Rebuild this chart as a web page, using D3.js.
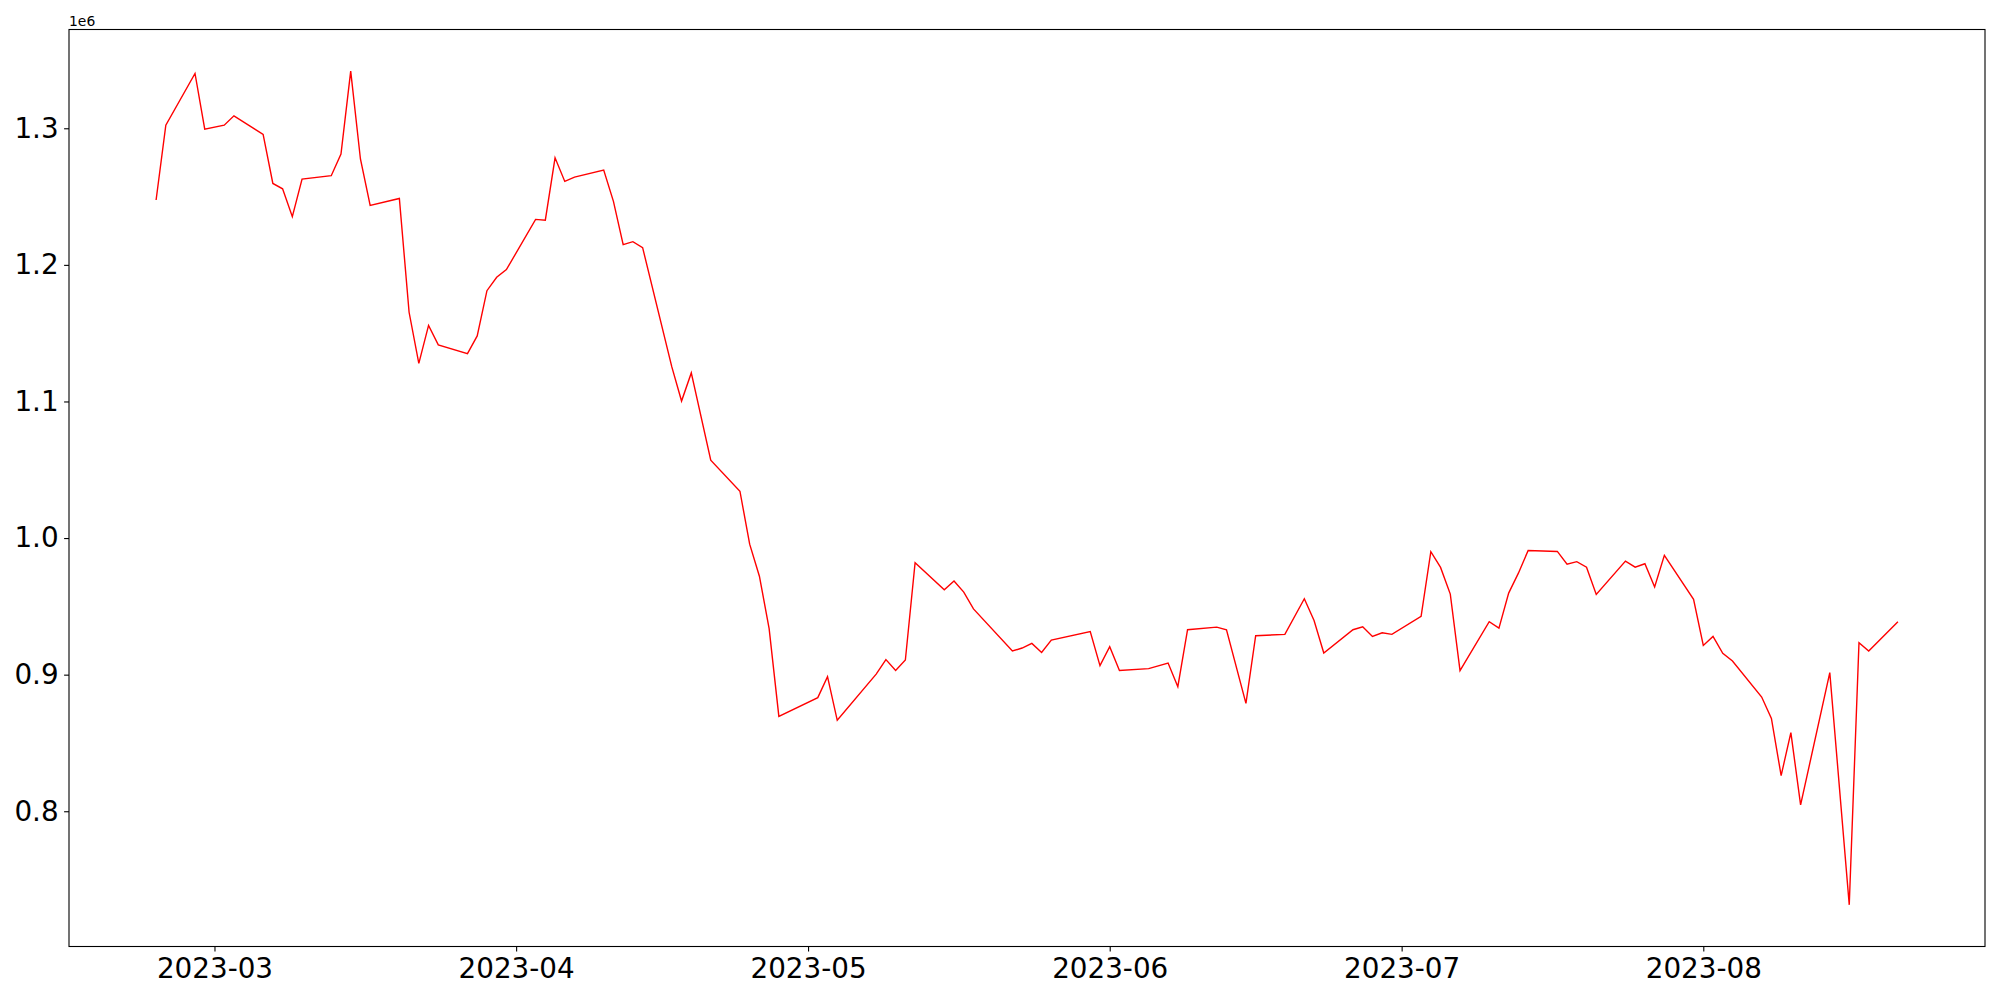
<!DOCTYPE html>
<html>
<head>
<meta charset="utf-8">
<script src="https://cdn.jsdelivr.net/npm/d3@7"></script>
<style>
  html, body { margin: 0; padding: 0; background: #fff; overflow: hidden; }
  svg { display: block; }
  text { font-family: "DejaVu Sans", sans-serif; }
</style>
</head>
<body>
<div id="chart"></div>
<script>
const width = 2000,
      height = 1000,
      margin = { top: 29.5, right: 15, bottom: 53.5, left: 69 };

const innerWidth = width - (margin.right + margin.left),
      innerHeight = height - (margin.top + margin.bottom);

// trading days
const dates = [
  '2023-02-23','2023-02-24','2023-02-27','2023-02-28','2023-03-02','2023-03-03',
  '2023-03-06','2023-03-07','2023-03-08','2023-03-09','2023-03-10',
  '2023-03-13','2023-03-14','2023-03-15','2023-03-16','2023-03-17',
  '2023-03-20','2023-03-21','2023-03-22','2023-03-23','2023-03-24',
  '2023-03-27','2023-03-28','2023-03-29','2023-03-30','2023-03-31',
  '2023-04-03','2023-04-04','2023-04-05','2023-04-06','2023-04-07',
  '2023-04-10','2023-04-11','2023-04-12','2023-04-13','2023-04-14',
  '2023-04-17','2023-04-18','2023-04-19','2023-04-21',
  '2023-04-24','2023-04-25','2023-04-26','2023-04-27','2023-04-28',
  '2023-05-02','2023-05-03','2023-05-04',
  '2023-05-08','2023-05-09','2023-05-10','2023-05-11','2023-05-12',
  '2023-05-15','2023-05-16','2023-05-17','2023-05-18',
  '2023-05-22','2023-05-23','2023-05-24','2023-05-25','2023-05-26',
  '2023-05-30','2023-05-31','2023-06-01','2023-06-02',
  '2023-06-05','2023-06-07','2023-06-08','2023-06-09',
  '2023-06-12','2023-06-13','2023-06-15','2023-06-16',
  '2023-06-19','2023-06-21','2023-06-22','2023-06-23',
  '2023-06-26','2023-06-27','2023-06-28','2023-06-29','2023-06-30',
  '2023-07-03','2023-07-04','2023-07-05','2023-07-06','2023-07-07',
  '2023-07-10','2023-07-11','2023-07-12','2023-07-13','2023-07-14',
  '2023-07-17','2023-07-18','2023-07-19','2023-07-20','2023-07-21',
  '2023-07-24','2023-07-25','2023-07-26','2023-07-27','2023-07-28',
  '2023-07-31','2023-08-01','2023-08-02','2023-08-03','2023-08-04',
  '2023-08-07','2023-08-08','2023-08-09','2023-08-10','2023-08-11',
  '2023-08-14','2023-08-16','2023-08-17','2023-08-18','2023-08-21'
];

const values = [
  1247500, 1302300, 1340100, 1299400, 1302300, 1309100,
  1295500, 1259600, 1255700, 1235300, 1262800,
  1265300, 1281100, 1341800, 1277500, 1243500,
  1248600, 1165300, 1127900, 1155700, 1141400,
  1135000, 1148000, 1181100, 1190900, 1196500,
  1233300, 1232700, 1278400, 1261100, 1264300,
  1269400, 1246500, 1214800, 1217000, 1212600,
  1125300, 1100300, 1120900, 1057000,
  1034300, 995500, 972100, 933700, 869500,
  883200, 898500, 866600,
  900400, 911000, 903100, 910700, 981900,
  962200, 968500, 960400, 948100,
  917300, 919500, 922900, 916300, 925300,
  931500, 906600, 920500, 903100,
  904400, 908500, 891200, 932900,
  934800, 932900, 879000, 928500,
  929500, 955600, 939700, 915800,
  932900, 935100, 928000, 930700, 929500,
  942700, 990000, 978500, 959000, 902900,
  938800, 934100, 959700, 974300, 990900,
  990200, 980900, 982700, 978700, 958700,
  983100, 978700, 981200, 964200, 987300,
  955200, 921400, 928000, 915600, 910000,
  883600, 868000, 826100, 857600, 804600,
  901500, 731500, 923400, 917300, 938800
];

const yTicks = [800000, 900000, 1000000, 1100000, 1200000, 1300000];
const xTicks = ['2023-03-01','2023-04-01','2023-05-01','2023-06-01','2023-07-01','2023-08-01'];

const parseDate = d3.timeParse('%Y-%m-%d');
const data = dates.map((d, i) => ({ date: parseDate(d), value: values[i] }));

const svg = d3.select('#chart').append('svg')
    .attr('width', width)
    .attr('height', height);

const plot = svg.append('g')
    .attr('transform', `translate(${margin.left}, ${margin.top})`);

// matplotlib style 5% padding
const xExt = d3.extent(data, d => d.date),
      yExt = d3.extent(data, d => d.value);
const xPad = (xExt[1] - xExt[0]) * 0.05,
      yPad = (yExt[1] - yExt[0]) * 0.05;

const xScale = d3.scaleTime()
    .domain([new Date(+xExt[0] - xPad), new Date(+xExt[1] + xPad)])
    .range([0, innerWidth]);

const yScale = d3.scaleLinear()
    .domain([yExt[0] - yPad, yExt[1] + yPad])
    .range([innerHeight, 0]);

const xAxis = d3.axisBottom(xScale)
    .tickValues(xTicks.map(parseDate))
    .tickFormat(d3.timeFormat('%Y-%m'))
    .tickSize(4.9)
    .tickPadding(7);

const yAxis = d3.axisLeft(yScale)
    .tickValues(yTicks)
    .tickFormat(d => (d / 1e6).toFixed(1))
    .tickSize(4.9)
    .tickPadding(5.5);

const gx = plot.append('g')
    .attr('transform', `translate(0, ${innerHeight})`)
    .call(xAxis);

const gy = plot.append('g')
    .call(yAxis);

[gx, gy].forEach(g => {
  g.select('.domain').remove();
  g.selectAll('.tick line').attr('stroke', '#000').attr('stroke-width', 1.1);
  g.selectAll('.tick text')
    .attr('fill', '#000')
    .style('font-family', '"DejaVu Sans", sans-serif')
    .style('font-size', '27.8px');
});

const line = d3.line()
    .x(d => xScale(d.date))
    .y(d => yScale(d.value));

plot.append('path')
    .datum(data)
    .attr('fill', 'none')
    .attr('stroke', '#ff0000')
    .attr('stroke-width', 1.4)
    .attr('stroke-linejoin', 'miter')
    .attr('d', line);

// frame
plot.append('rect')
    .attr('width', innerWidth)
    .attr('height', innerHeight)
    .attr('fill', 'none')
    .attr('stroke', '#000')
    .attr('stroke-width', 1.1);

// offset text
svg.append('text')
    .attr('x', margin.left)
    .attr('y', margin.top - 4)
    .style('font-size', '13.9px')
    .text('1e6');
</script>
</body>
</html>
